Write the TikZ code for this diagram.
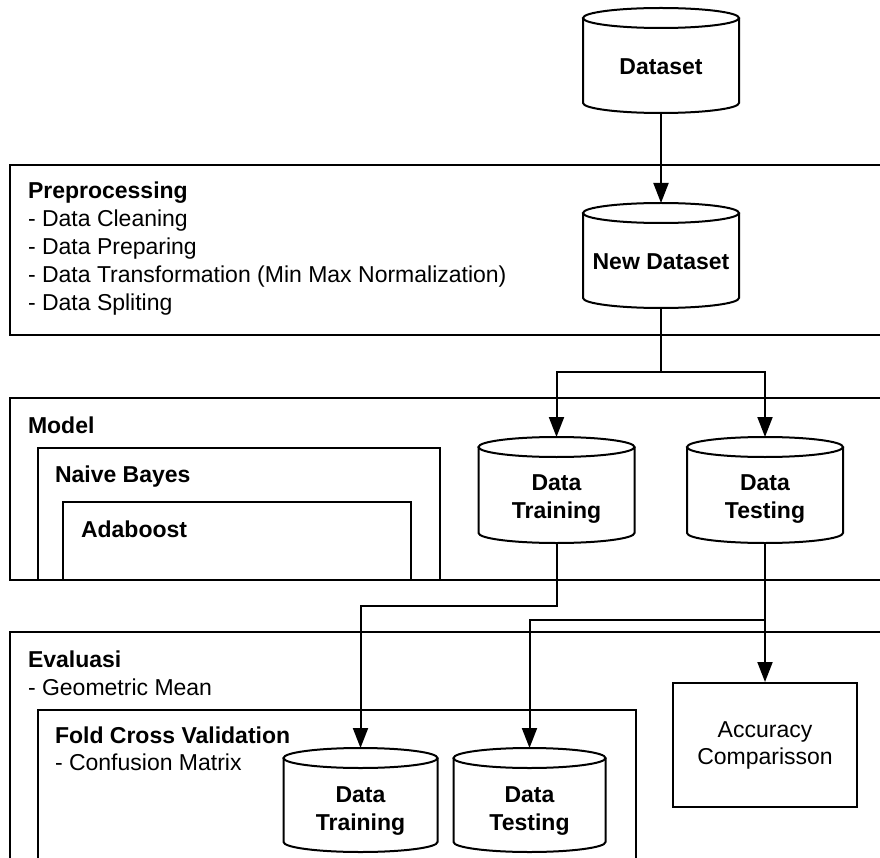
\documentclass[tikz,border=0pt]{standalone}
\usepackage{fontspec}
\setmainfont{Liberation Sans}
\usetikzlibrary{arrows.meta}
\newcommand\dbcyl[5]{%
  \node[inner sep=0,outer sep=0,minimum width={2*#5},minimum height={#4-#3}] (#1) at (#2,{(#3+#4)/2}) {};
  \draw (#2,{#3+10}) ellipse [x radius=#5, y radius=10];
  \draw ({#2-#5},{#3+10}) -- ({#2-#5},{#4-10}) arc[start angle=180,end angle=0,x radius=#5,y radius=10] -- ({#2+#5},{#3+10});
}
\begin{document}
\begin{tikzpicture}[x=1pt,y=-1pt,line width=2pt,
  lbl/.style={anchor=base west,inner sep=0,font=\fontsize{23}{28}\selectfont},
  ctr/.style={anchor=base,inner sep=0,font=\fontsize{23}{28}\selectfont\bfseries},
  arr/.style={-{Triangle[length=20pt,width=15pt]}}]
\useasboundingbox (0,0) rectangle (880,858);
\clip (0,0) rectangle (880,858);
\fill[white] (0,0) rectangle (880,858);

% group boxes
\draw (10,165) rectangle (900,335);
\draw (10,398) rectangle (900,580);
\draw (38,580) |- (440,448) -- (440,580);
\draw (63,580) |- (411,502) -- (411,580);
\draw (10,632) rectangle (900,900);
\draw (38,900) |- (636,710) -- (636,900);

% cylinders
\dbcyl{ds}{661}{8}{113}{78}
\dbcyl{nd}{661}{203}{308}{78}
\dbcyl{mtr}{556.5}{437}{543}{78}
\dbcyl{mte}{765}{437}{543}{78}
\dbcyl{ftr}{360.5}{748}{852}{77}
\dbcyl{fte}{529.5}{748}{852}{76}

\node[ctr] (tds) at (661,75) {Dataset};
\node[ctr] (tnd) at (661,270) {New Dataset};
\node[ctr] (tmtr1) at (556.5,490) {Data};
\node[ctr] (tmtr2) at (556.5,518) {Training};
\node[ctr] (tmte1) at (765,490) {Data};
\node[ctr] (tmte2) at (765,518) {Testing};
\node[ctr] (tftr1) at (360.5,802) {Data};
\node[ctr] (tftr2) at (360.5,830) {Training};
\node[ctr] (tfte1) at (529.5,802) {Data};
\node[ctr] (tfte2) at (529.5,830) {Testing};

% accuracy box
\node[draw,inner sep=0,minimum width=184,minimum height=124,align=center,
      font=\fontsize{23}{27}\selectfont] (acc) at (765,745) {Accuracy\\Comparisson};

% labels
\node[lbl,font=\fontsize{23}{28}\selectfont\bfseries] (lpre) at (27,199) {Preprocessing};
\node[lbl] (l1) at (27,227) {- Data Cleaning};
\node[lbl] (l2) at (27,255) {- Data Preparing};
\node[lbl] (l3) at (27,283) {- Data Transformation (Min Max Normalization)};
\node[lbl] (l4) at (27,311) {- Data Spliting};
\node[lbl,font=\fontsize{23}{28}\selectfont\bfseries] (lmod) at (27,433) {Model};
\node[lbl,font=\fontsize{23}{28}\selectfont\bfseries] (lnb) at (54,482) {Naive Bayes};
\node[lbl,font=\fontsize{23}{28}\selectfont\bfseries] (lada) at (80,537) {Adaboost};
\node[lbl,font=\fontsize{23}{28}\selectfont\bfseries] (lev) at (27,667) {Evaluasi};
\node[lbl] (lgm) at (27,695) {- Geometric Mean};
\node[lbl,font=\fontsize{23}{28}\selectfont\bfseries] (lfcv) at (54,743) {Fold Cross Validation};
\node[lbl] (lcm) at (54,770) {- Confusion Matrix};

% connectors
\draw[arr] (ds.south) -- (nd.north);
\coordinate (s1) at (661,372);
\draw (nd.south) -- (s1);
\draw[arr] (s1) -| (mtr.north);
\draw[arr] (s1) -| (mte.north);
\coordinate (b1) at (0,606);
\draw[arr] (mtr.south) |- (ftr.north |- b1) -- (ftr.north);
\draw[arr] (mte.south) -- (acc.north);
\coordinate (b2) at (0,620);
\draw[arr] (mte.south |- b2) -| (fte.north);
\end{tikzpicture}
\end{document}
